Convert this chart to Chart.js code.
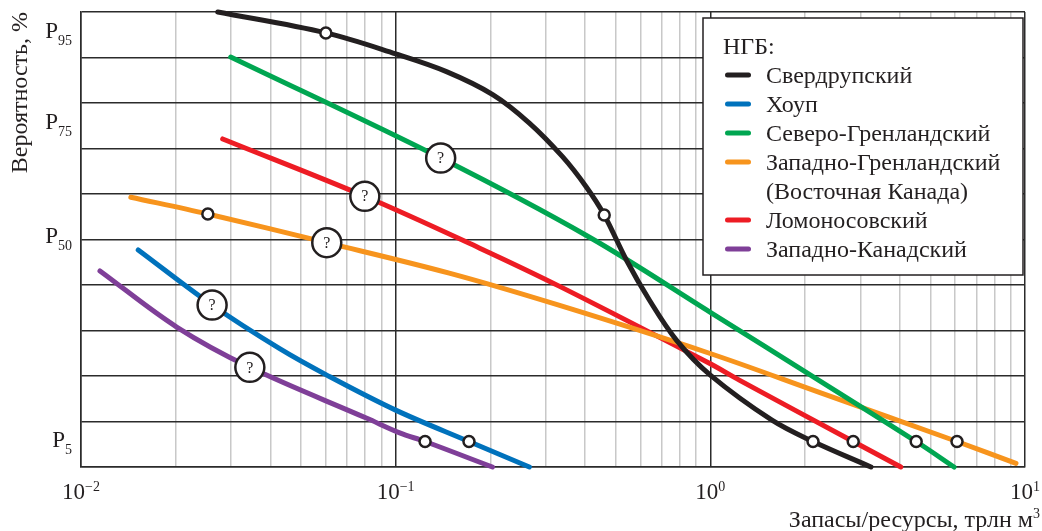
<!DOCTYPE html>
<html>
<head>
<meta charset="utf-8">
<script src="https://cdn.jsdelivr.net/npm/chart.js@4.4.1/dist/chart.umd.min.js"></script>
<style>
  html, body { margin: 0; padding: 0; background: #fff; }
</style>
</head>
<body>
<canvas id="chart" width="1042" height="531"></canvas>
<script>
const INK = '#231f20';
const FONT = '"Liberation Serif", "Times New Roman", serif';

// series names (legend) and colours
const SERIES_NAMES = [
  'Свердрупский',
  'Хоуп',
  'Северо-Гренландский',
  'Западно-Гренландский\n(Восточная Канада)',
  'Ломоносовский',
  'Западно-Канадский',
];
const SERIES_COLORS = ['#231f20', '#0072bc', '#00a651', '#f7941d', '#ed1c24', '#7f3f98'];

// x: запасы/ресурсы, трлн м3 ; y: вероятность, %
const sverdX = [0.0272, 0.06, 0.1, 0.145, 0.204, 0.266, 0.339, 0.403, 0.46, 0.541, 0.64, 0.78, 1.0, 1.57, 2.12, 3.24];
const sverdY = [100, 95.4, 90.8, 86.9, 81.8, 75.6, 68.2, 61.6, 55.4, 45.5, 36.7, 27.9, 20.2, 10.3, 5.6, 0];

const houpX = [0.0152, 0.0261, 0.0428, 0.0604, 0.1, 0.171, 0.266];
const houpY = [47.7, 35.6, 26.0, 20.2, 12.5, 5.6, 0];

const nGreenX = [0.0299, 0.139, 0.413, 1.0, 2.22, 4.51, 5.95];
const nGreenY = [90.1, 67.9, 50.5, 34.0, 19.0, 5.6, 0];

const wGreenX = [0.0144, 0.0253, 0.0604, 0.148, 0.332, 0.993, 2.22, 6.08, 9.36];
const wGreenY = [59.3, 55.6, 49.3, 42.6, 35.5, 25.0, 16.4, 5.6, 0.8];

const lomX = [0.0282, 0.0798, 0.185, 0.332, 0.993, 1.236, 2.845, 4.03];
const lomY = [72.1, 59.5, 48.1, 39.7, 22.8, 19.1, 5.6, 0];

const wCanX = [0.01149, 0.0202, 0.0344, 0.081, 0.103, 0.124, 0.203];
const wCanY = [43.1, 30.7, 21.9, 10.7, 7.5, 5.6, 0];

const SERIES_X = [sverdX, houpX, nGreenX, wGreenX, lomX, wCanX];
const SERIES_Y = [sverdY, houpY, nGreenY, wGreenY, lomY, wCanY];

// open circle marks on the curves
const markX = [0.06, 0.46, 2.12, 0.171, 4.51, 0.0253, 6.08, 2.845, 0.124];
const markY = [95.4, 55.4, 5.6, 5.6, 5.6, 55.6, 5.6, 5.6, 5.6];

// circles with "?"
const askX = [0.0261, 0.139, 0.0604, 0.0798, 0.0344];
const askY = [35.6, 67.9, 49.3, 59.5, 21.9];

// tick labels
const Y_LABEL_VALUES = [5, 50, 75, 95];
const Y_LABEL_SUBS = ['5', '50', '75', '95'];
const X_LABEL_EXP = [-2, -1, 0, 1];
const X_LABEL_SUPS = ['\u22122', '\u22121', '0', '1'];

const toPoints = (xs, ys) => xs.map((x, i) => ({ x, y: ys[i] }));

function isDecade(v) {
  const l = Math.log10(v);
  return Math.abs(l - Math.round(l)) < 1e-6;
}

// grid values 1..9 x 10^n
const xGridValues = [];
for (let e = -2; e <= 0; e += 1) {
  for (let m = 1; m <= 9; m += 1) {
    xGridValues.push(parseFloat((m * Math.pow(10, e)).toPrecision(3)));
  }
}
xGridValues.push(10);

const datasets = [];
datasets.push({
  label: 'marks',
  data: toPoints(markX, markY),
  showLine: false,
  pointRadius: 5.5,
  pointBorderWidth: 2.5,
  pointBackgroundColor: '#fff',
  pointBorderColor: INK,
  order: 0,
});
datasets.push({
  label: 'ask',
  data: toPoints(askX, askY),
  showLine: false,
  pointRadius: 14.5,
  pointBorderWidth: 2.5,
  pointBackgroundColor: '#fff',
  pointBorderColor: INK,
  order: 0,
});
SERIES_NAMES.forEach((name, i) => {
  datasets.push({
    label: name,
    data: toPoints(SERIES_X[i], SERIES_Y[i]),
    showLine: true,
    borderColor: SERIES_COLORS[i],
    backgroundColor: SERIES_COLORS[i],
    borderWidth: 5,
    borderCapStyle: 'round',
    borderJoinStyle: 'round',
    pointRadius: 0,
    tension: 0.35,
    clip: false,
    order: 1,
  });
});

const textPlugin = {
  id: 'texts',
  afterDatasetsDraw(chart) {
    const { ctx, scales: { x, y } } = chart;
    ctx.save();
    ctx.fillStyle = INK;

    // "?" inside big circles
    const askMeta = chart.getDatasetMeta(1);
    ctx.font = '16px ' + FONT;
    ctx.textAlign = 'center';
    ctx.textBaseline = 'middle';
    askMeta.data.forEach(el => ctx.fillText('?', el.x, el.y + 1));

    ctx.textBaseline = 'alphabetic';
    ctx.textAlign = 'left';

    // y labels P with subscript
    Y_LABEL_VALUES.forEach((v, i) => {
      const py = y.getPixelForValue(v);
      ctx.font = '14px ' + FONT;
      const sw = ctx.measureText(Y_LABEL_SUBS[i]).width;
      ctx.font = '23px ' + FONT;
      const pw = ctx.measureText('P').width;
      const right = 72;
      ctx.fillText('P', right - sw - pw, py + 3);
      ctx.font = '14px ' + FONT;
      ctx.fillText(Y_LABEL_SUBS[i], right - sw, py + 10);
    });

    // x labels 10 with superscript
    X_LABEL_EXP.forEach((e, i) => {
      const px = x.getPixelForValue(Math.pow(10, e));
      ctx.font = '23px ' + FONT;
      const bw = ctx.measureText('10').width;
      ctx.font = '14px ' + FONT;
      const sw = ctx.measureText(X_LABEL_SUPS[i]).width;
      const left = px - (bw + sw) / 2;
      ctx.font = '23px ' + FONT;
      ctx.fillText('10', left, 499);
      ctx.font = '14px ' + FONT;
      ctx.fillText(X_LABEL_SUPS[i], left + bw, 491);
    });

    // x axis title
    ctx.font = '14px ' + FONT;
    const supW = ctx.measureText('3').width;
    ctx.font = '24px ' + FONT;
    const title = 'Запасы/ресурсы, трлн м';
    const tw = ctx.measureText(title).width;
    const tRight = 1040;
    ctx.fillText(title, tRight - supW - tw, 527);
    ctx.font = '14px ' + FONT;
    ctx.fillText('3', tRight - supW, 518);

    // legend box
    const bx = 703, by = 18, bw = 320, bh = 257;
    ctx.fillStyle = '#fff';
    ctx.fillRect(bx, by, bw, bh);
    ctx.strokeStyle = INK;
    ctx.lineWidth = 1.5;
    ctx.strokeRect(bx, by, bw, bh);
    ctx.fillStyle = INK;
    ctx.font = '24px ' + FONT;
    ctx.fillText('НГБ:', 723, 46 + 8);
    let row = 0;
    SERIES_NAMES.forEach((name, i) => {
      const lines = name.split('\n');
      const ly = 75 + 29 * row;
      ctx.strokeStyle = SERIES_COLORS[i];
      ctx.lineWidth = 5;
      ctx.lineCap = 'round';
      ctx.beginPath();
      ctx.moveTo(727.5, ly);
      ctx.lineTo(748.5, ly);
      ctx.stroke();
      lines.forEach(line => {
        ctx.fillText(line, 766, 75 + 29 * row + 8);
        row += 1;
      });
    });
    ctx.restore();
  }
};

new Chart(document.getElementById('chart'), {
  type: 'scatter',
  data: { datasets },
  plugins: [textPlugin],
  options: {
    responsive: false,
    animation: false,
    layout: { autoPadding: false, padding: { top: 12, right: 17, left: 0, bottom: 0 } },
    plugins: {
      legend: { display: false },
      tooltip: { enabled: false },
    },
    scales: {
      x: {
        type: 'logarithmic',
        min: 0.01,
        max: 10,
        afterBuildTicks: (scale) => { scale.ticks = xGridValues.map(v => ({ value: v })); },
        afterFit: (scale) => { scale.height = 64; },
        ticks: { display: false },
        grid: {
          drawTicks: false,
          color: (c) => (c.tick && isDecade(c.tick.value)) ? '#2b2b2b' : '#c8c8c8',
          lineWidth: 1.5,
        },
        border: { display: true, color: '#2b2b2b', width: 1.5 },
      },
      y: {
        min: 0,
        max: 100,
        afterFit: (scale) => { scale.width = 81; },
        ticks: { display: false, stepSize: 10 },
        grid: { drawTicks: false, color: '#2b2b2b', lineWidth: 1.5 },
        border: { display: true, color: '#2b2b2b', width: 1.5 },
        title: {
          display: true,
          text: 'Вероятность, %',
          align: 'end',
          color: INK,
          font: { family: FONT, size: 24 },
          padding: { top: 6, bottom: 0 },
        },
      },
    },
  },
});
</script>
</body>
</html>
